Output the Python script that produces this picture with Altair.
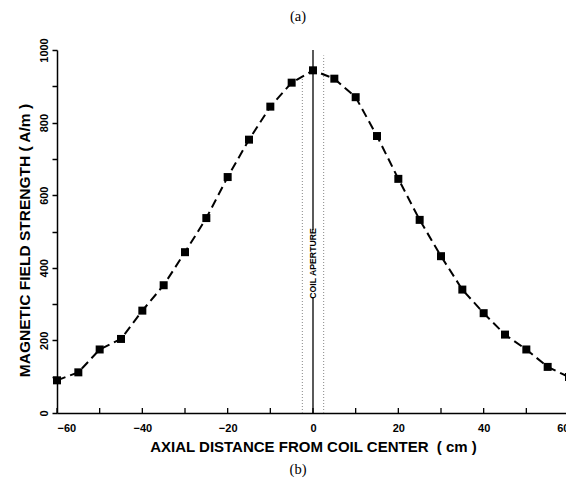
import altair as alt
import pandas as pd

# ---- data ----
distance_cm = [-60, -55, -50, -45, -40, -35, -30, -25, -20, -15, -10, -5, 0,
               5, 10, 15, 20, 25, 30, 35, 40, 45, 50, 55, 60]
field_am = [90, 112, 175, 204, 282, 352, 443, 537, 650, 753, 844, 910, 944,
            921, 870, 763, 645, 532, 432, 340, 275, 216, 175, 127, 99]

x_tick_values = [-60, -50, -40, -30, -20, -10, 0, 10, 20, 30, 40, 50, 60]
x_label_values = [-60, -40, -20, 0, 20, 40, 60]
y_tick_values = [0, 100, 200, 300, 400, 500, 600, 700, 800, 900, 1000]

aperture_edges = [-2.5, 2.5]
aperture_edge_tops = [925, 985]
center_line_x = [0, 0]
center_line_from = [0, 504]
center_line_to = [319, 1000]
aperture_label = "COIL APERTURE"
aperture_label_y = 412

W, H = 512, 363

curve = pd.DataFrame({"x": distance_cm, "y": field_am})
edges = pd.DataFrame({"x": aperture_edges, "y": [0, 0], "y2": aperture_edge_tops})
center = pd.DataFrame({"x": center_line_x, "y": center_line_from, "y2": center_line_to})
ticks = pd.DataFrame({"x": x_tick_values})
label = pd.DataFrame({"x": [0], "y": [aperture_label_y], "t": [aperture_label]})

xscale = alt.Scale(domain=[-60, 60], nice=False, zero=False)
yscale = alt.Scale(domain=[0, 1000], nice=False)

xaxis = alt.Axis(
    title="AXIAL DISTANCE FROM COIL CENTER \u00a0( cm )",
    values=x_label_values, format="d", tickSize=0, labelPadding=9,
    titlePadding=6, grid=False,
)
yaxis = alt.Axis(
    title="MAGNETIC FIELD STRENGTH ( A/m )",
    values=y_tick_values, format="d",
    labelExpr="datum.value % 200 == 0 ? datum.label : ''",
    labelAngle=270, labelAlign="center", labelBaseline="bottom",
    tickSize=5, labelPadding=3, titlePadding=6, grid=False,
    titleY=190, titleAlign="center", titleFontSize=15.5,
)

X = alt.X("x:Q", scale=xscale, axis=xaxis)
Y = alt.Y("y:Q", scale=yscale, axis=yaxis)

line = alt.Chart(curve).mark_line(
    color="black", strokeWidth=2, strokeDash=[9, 5]
).encode(x=X, y=Y)

pts = alt.Chart(curve).mark_point(
    shape="square", filled=True, color="black", size=64, opacity=1
).encode(x=X, y=Y)

edge_rules = alt.Chart(edges).mark_rule(
    color="#888888", strokeWidth=1, strokeDash=[1, 2]
).encode(x=X, y=Y, y2="y2:Q")

center_rules = alt.Chart(center).mark_rule(
    color="black", strokeWidth=1.3
).encode(x=X, y=Y, y2="y2:Q")

label_text = alt.Chart(label).mark_text(
    angle=270, font="Liberation Sans", fontWeight="bold",
    fontSize=8.7, color="black", align="center", baseline="middle"
).encode(x=X, y=Y, text="t:N")

tick_marks = alt.Chart(ticks).mark_rule(color="black", strokeWidth=1.3).encode(
    x=X, y=alt.value(H), y2=alt.value(H - 5)
)

panel_a = alt.Chart(pd.DataFrame({"t": ["(a)"]})).mark_text(
    font="Liberation Serif", fontSize=14.5, color="black", align="center", baseline="middle"
).encode(x=alt.value(241), y=alt.value(-33), text="t:N")

panel_b = alt.Chart(pd.DataFrame({"t": ["(b)"]})).mark_text(
    font="Liberation Serif", fontSize=14.5, color="black", align="center", baseline="middle"
).encode(x=alt.value(241), y=alt.value(420), text="t:N")

chart = alt.layer(
    edge_rules, center_rules, line, pts, label_text, tick_marks, panel_a, panel_b
).properties(
    width=W, height=H,
    autosize=alt.AutoSizeParams(type="none"),
    padding={"left": 49, "top": 42, "right": -3, "bottom": 67},
).configure_view(stroke=None).configure_axis(
    domainColor="black", domainWidth=1.5, tickColor="black", tickWidth=1.5,
    labelFont="Liberation Sans", labelFontWeight="bold", labelFontSize=11,
    labelColor="black", titleFont="Liberation Sans", titleFontWeight="bold",
    titleFontSize=15, titleColor="black",
)

chart.save("out.html", embed_options={"renderer": "svg", "actions": False})
